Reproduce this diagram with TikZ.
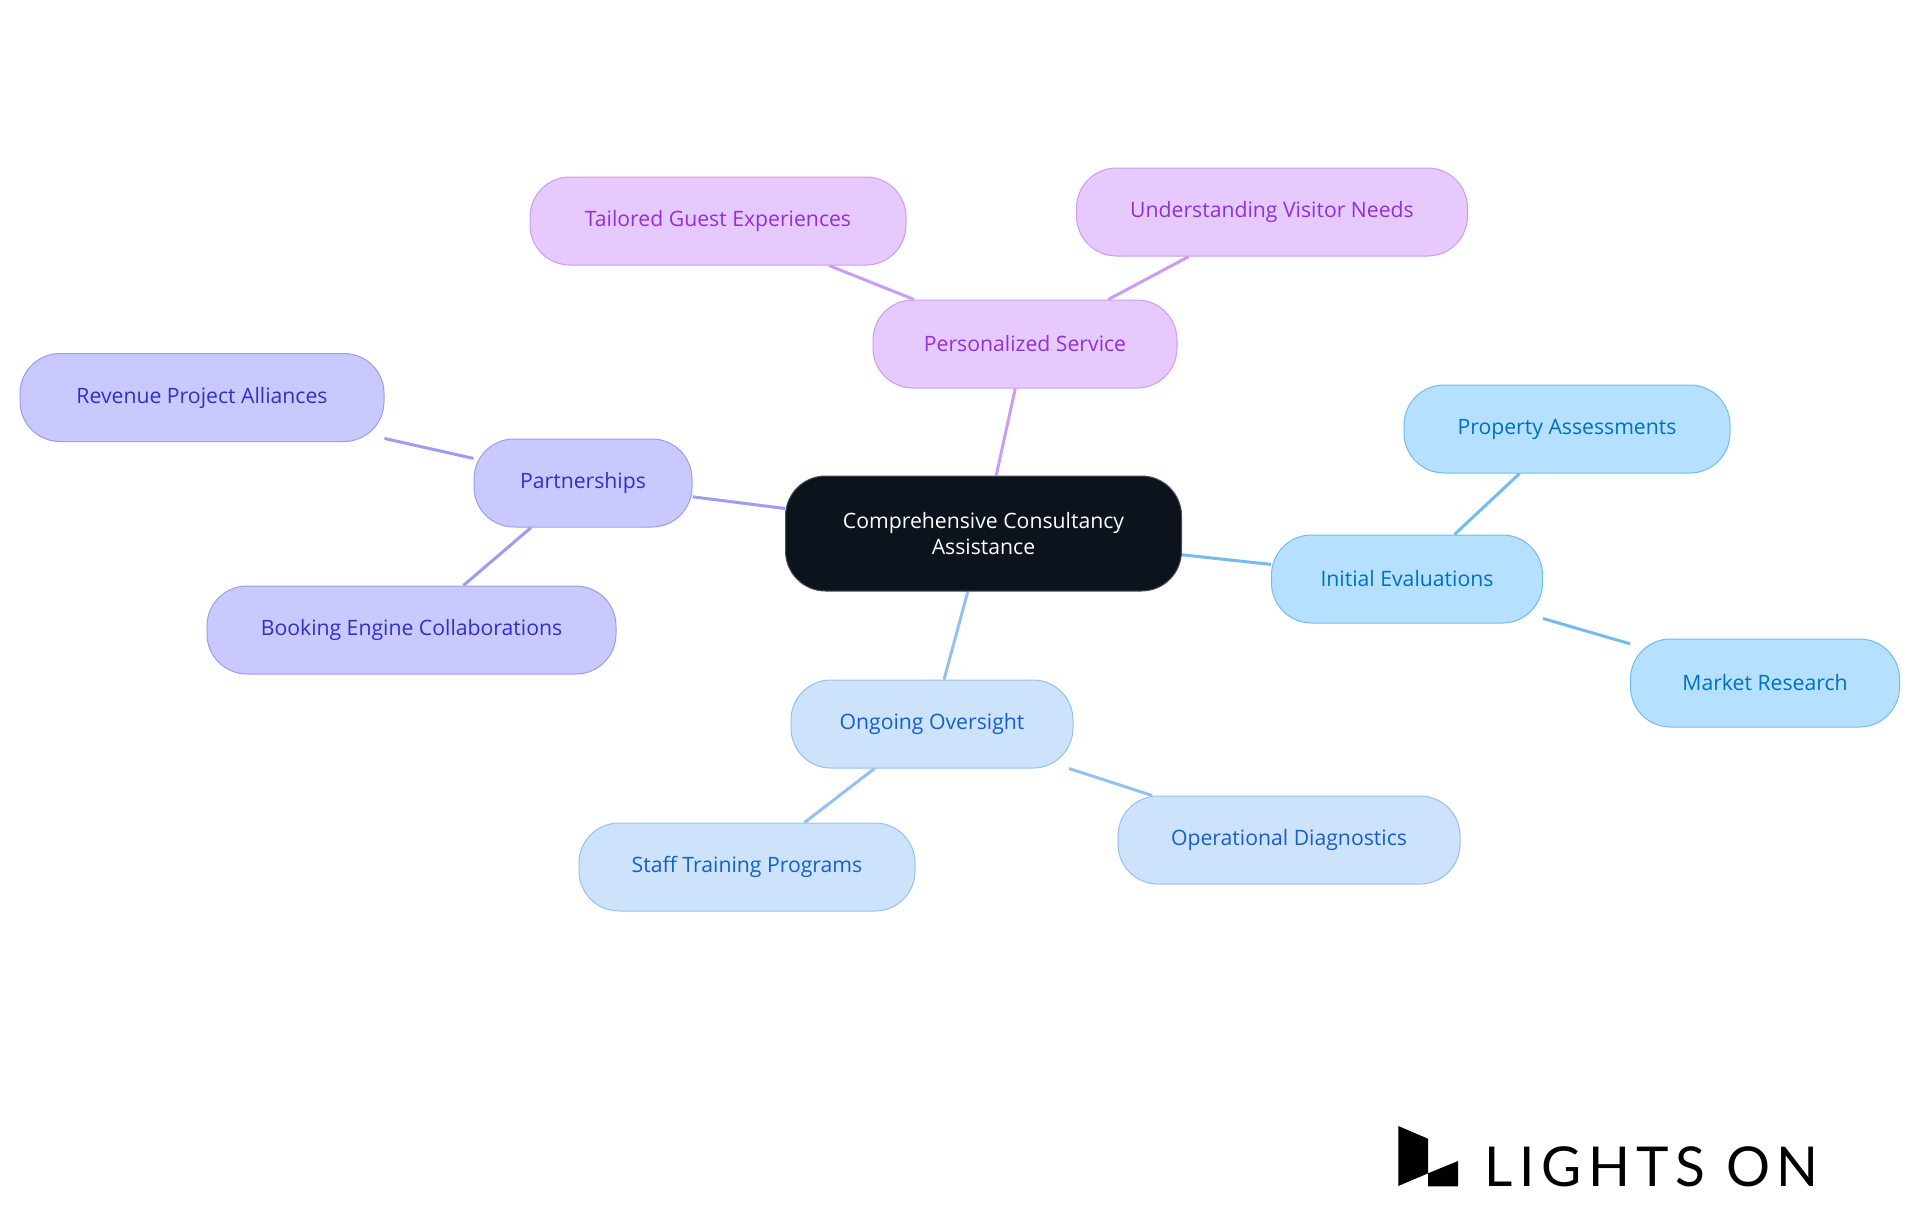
\documentclass[tikz,border=0pt]{standalone}
\usepackage{fontspec}
\setmainfont{Open Sans}
\newfontfamily\logofont[LetterSpace=12]{Lato}
\usetikzlibrary{backgrounds}
\definecolor{rootfill}{HTML}{0C131C}
\definecolor{rootline}{HTML}{4A4F56}
\definecolor{violetfill}{HTML}{C9C9FF}
\definecolor{violetline}{HTML}{9C9CF2}
\definecolor{violettext}{HTML}{3030C8}
\definecolor{purplefill}{HTML}{E6C9FF}
\definecolor{purpleline}{HTML}{CB9CF0}
\definecolor{purpletext}{HTML}{9030D8}
\definecolor{skyfill}{HTML}{B5E0FF}
\definecolor{skyline}{HTML}{72BCF0}
\definecolor{skytext}{HTML}{0070C0}
\definecolor{bluefill}{HTML}{CDE3FC}
\definecolor{blueline}{HTML}{96C0EE}
\definecolor{bluetext}{HTML}{1560C8}
\begin{document}
\begin{tikzpicture}[
    x=0.5pt, y=-0.5pt,
    box/.style={draw, rounded corners=20pt, line width=0.5pt, minimum height=44pt,
                inner sep=0pt, font=\fontsize{10.6pt}{13pt}\selectfont, align=center},
    rootbox/.style={box, fill=rootfill, draw=rootline, text=white},
    violetbox/.style={box, fill=violetfill, draw=violetline, text=violettext},
    purplebox/.style={box, fill=purplefill, draw=purpleline, text=purpletext},
    skybox/.style={box, fill=skyfill, draw=skyline, text=skytext},
    bluebox/.style={box, fill=bluefill, draw=blueline, text=bluetext},
    link/.style={line width=1.5pt}
  ]
  \useasboundingbox (0,0) rectangle (1920,1215);

  \node[rootbox, minimum width=198pt, minimum height=57.5pt] (root) at (983.5,533.5) {Comprehensive Consultancy\\Assistance};

  \node[violetbox, minimum width=109pt] (partner) at (583,483) {Partnerships};
  \node[violetbox, minimum width=182pt] (revenue) at (202,397.5) {Revenue Project Alliances};
  \node[violetbox, minimum width=204.5pt] (booking) at (411.5,630) {Booking Engine Collaborations};

  \node[purplebox, minimum width=152pt] (service) at (1025,344) {Personalized Service};
  \node[purplebox, minimum width=188pt] (tailored) at (718,221) {Tailored Guest Experiences};
  \node[purplebox, minimum width=195.5pt] (visitor) at (1272,212) {Understanding Visitor Needs};

  \node[skybox, minimum width=135.5pt] (initial) at (1407,579) {Initial Evaluations};
  \node[skybox, minimum width=163pt] (property) at (1567,429) {Property Assessments};
  \node[skybox, minimum width=134.5pt] (market) at (1765,683) {Market Research};

  \node[bluebox, minimum width=141pt] (ongoing) at (932,724) {Ongoing Oversight};
  \node[bluebox, minimum width=168pt] (staff) at (747,867) {Staff Training Programs};
  \node[bluebox, minimum width=171pt] (diagnostics) at (1289,840) {Operational Diagnostics};

  \begin{pgfonlayer}{background}
    \draw[link, violetline] (root) -- (partner);
    \draw[link, violetline] (partner) -- (revenue);
    \draw[link, violetline] (partner) -- (booking);
    \draw[link, purpleline] (root) -- (service);
    \draw[link, purpleline] (service) -- (tailored);
    \draw[link, purpleline] (service) -- (visitor);
    \draw[link, skyline] (root) -- (initial);
    \draw[link, skyline] (initial) -- (property);
    \draw[link, skyline] (initial) -- (market);
    \draw[link, blueline] (root) -- (ongoing);
    \draw[link, blueline] (ongoing) -- (staff);
    \draw[link, blueline] (ongoing) -- (diagnostics);
  \end{pgfonlayer}

  % logo
  \fill[black] (1398.3,1126) -- (1428,1138.7) -- (1428,1173.3) -- (1398.3,1186) -- cycle;
  \fill[black] (1428,1173.3) -- (1458,1161) -- (1458,1186.3) -- (1428,1186.3) -- cycle;
  \node[anchor=base west, inner sep=0pt, font=\logofont\fontsize{27.5pt}{30pt}\selectfont] (logo) at (1484,1186.5) {LIGHTS ON};
\end{tikzpicture}
\end{document}
